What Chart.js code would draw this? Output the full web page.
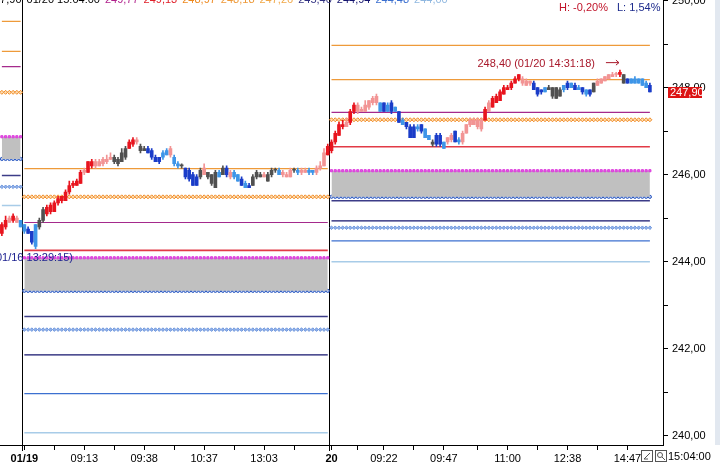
<!DOCTYPE html>
<html>
<head>
<meta charset="utf-8">
<script src="https://cdn.jsdelivr.net/npm/chart.js@4.4.1/dist/chart.umd.min.js"></script>
<style>
  html, body { margin: 0; padding: 0; background: #fff; overflow: hidden; }
  #wrap { position: absolute; left: 0; top: -7px; width: 720px; height: 475px; }
  #scroll { position: absolute; left: 715px; top: 0; width: 5px; height: 445px; background: #e2e8f0; }
</style>
</head>
<body>
<div id="wrap"><canvas id="c"></canvas></div>
<div id="scroll"></div>
<script>
// ── data ─────────────────────────────────────────
// one candle per slot: 01/16 tail (0-5), 01/19 (6-87), 01/20 (88-173)
const opens = [
  244.65,244.80,244.90,244.95,244.90,244.95, 244.85,244.75,244.70,244.85,
  244.80,244.95,245.10,245.15,245.15,245.35,245.40,245.40,245.60,245.75,
  245.75,245.80,246.05,246.05,246.20,246.20,246.20,246.25,246.30,246.35,
  246.40,246.25,246.30,246.40,246.60,246.70,246.75,246.65,246.60,246.60,
  246.55,246.40,246.40,246.50,246.55,246.45,246.40,246.25,246.20,246.15,
  246.10,246.00,245.95,245.95,246.00,246.05,246.00,245.70,246.05,246.00,
  246.15,245.95,246.05,246.00,245.90,245.80,245.75,245.75,245.95,246.00,
  245.95,245.85,246.00,246.10,246.10,246.00,245.95,245.95,246.10,246.10,
  246.05,246.05,246.10,246.10,246.05,246.15,246.20,246.45,
  246.55,246.75,246.90,247.10,247.10,247.20,247.45,247.45,247.45,247.45,
  247.55,247.65,247.65,247.65,247.65,247.60,247.65,247.55,247.45,247.25,
  247.20,247.10,247.10,247.10,247.15,247.05,246.90,246.75,246.90,246.90,
  246.75,246.75,246.80,247.00,246.80,246.75,246.95,247.15,247.15,247.10,
  247.05,247.25,247.45,247.55,247.65,247.70,247.85,247.95,248.00,248.10,
  248.20,248.10,248.05,248.10,248.10,248.00,247.95,248.00,248.00,248.00,
  247.75,247.95,248.05,248.10,248.10,248.05,248.00,248.00,247.95,247.95,
  247.90,248.05,248.10,248.15,248.20,248.25,248.30,248.30,248.30,248.20,
  248.20,248.20,248.20,248.20,248.10,248.05
];
const highs = [
  244.90,245.05,245.05,245.10,245.05,244.95, 244.85,244.80,244.70,244.85,
  245.00,245.25,245.30,245.35,245.40,245.50,245.50,245.65,245.85,245.85,
  245.90,246.10,246.15,246.30,246.35,246.35,246.35,246.40,246.45,246.50,
  246.45,246.40,246.60,246.65,246.80,246.85,246.85,246.70,246.65,246.65,
  246.60,246.45,246.40,246.55,246.60,246.65,246.45,246.30,246.25,246.15,
  246.15,246.05,246.00,246.15,246.25,246.05,246.00,246.10,246.10,246.20,
  246.20,246.10,246.10,246.00,245.95,245.85,245.80,246.00,246.10,246.05,
  246.05,246.05,246.15,246.15,246.15,246.10,246.05,246.15,246.15,246.15,
  246.15,246.15,246.15,246.10,246.20,246.30,246.60,246.70,
  246.80,247.00,247.20,247.25,247.30,247.50,247.65,247.65,247.55,247.70,
  247.70,247.80,247.85,247.65,247.65,247.65,247.70,247.55,247.45,247.30,
  247.20,247.15,247.15,247.15,247.15,247.05,246.90,246.80,246.95,246.95,
  246.75,246.85,246.95,247.00,246.85,247.00,247.15,247.30,247.30,247.30,
  247.30,247.55,247.70,247.80,247.85,247.95,248.05,248.05,248.15,248.25,
  248.30,248.25,248.20,248.15,248.15,248.00,247.95,248.00,248.05,248.00,
  248.00,248.00,248.05,248.15,248.10,248.10,248.05,248.00,247.95,247.95,
  248.10,248.20,248.20,248.25,248.30,248.35,248.35,248.40,248.30,248.20,
  248.20,248.25,248.20,248.20,248.15,248.10
];
const lows = [
  244.60,244.75,244.90,244.90,244.90,244.80, 244.65,244.65,244.40,244.30,
  244.75,244.90,245.05,245.10,245.15,245.30,245.35,245.40,245.55,245.70,
  245.75,245.80,246.00,246.05,246.15,246.15,246.20,246.20,246.25,246.35,
  246.25,246.20,246.30,246.35,246.60,246.65,246.70,246.50,246.55,246.50,
  246.35,246.30,246.25,246.35,246.45,246.40,246.20,246.15,246.15,245.90,
  245.85,245.75,245.75,245.90,246.00,245.90,245.75,245.70,245.95,246.00,
  245.95,245.90,245.90,245.85,245.75,245.70,245.70,245.75,245.90,245.95,
  245.95,245.85,245.95,246.05,246.00,245.95,245.95,245.95,246.05,246.00,
  246.00,246.05,246.00,246.00,246.00,246.10,246.20,246.45,
  246.50,246.70,246.90,247.05,247.10,247.15,247.40,247.40,247.45,247.45,
  247.50,247.60,247.60,247.45,247.45,247.45,247.40,247.45,247.20,247.15,
  247.05,246.85,246.85,247.00,246.95,246.85,246.80,246.65,246.65,246.65,
  246.60,246.70,246.75,246.75,246.70,246.70,246.95,247.10,247.15,247.05,
  247.00,247.25,247.45,247.55,247.65,247.70,247.85,247.95,247.95,248.10,
  248.15,248.05,248.05,248.05,247.95,247.80,247.85,247.90,247.95,247.75,
  247.75,247.80,247.90,247.95,248.00,247.95,247.95,247.85,247.80,247.80,
  247.90,248.05,248.10,248.15,248.20,248.25,248.25,248.25,248.10,248.10,
  248.10,248.10,248.10,248.05,248.00,247.90
];
const closes = [
  244.85,244.95,245.00,245.05,245.00,244.80, 244.70,244.65,244.45,244.35,
  244.95,245.20,245.25,245.30,245.35,245.45,245.50,245.60,245.75,245.80,
  245.85,246.05,246.10,246.30,246.30,246.30,246.30,246.35,246.35,246.40,
  246.30,246.35,246.50,246.60,246.75,246.80,246.80,246.55,246.55,246.50,
  246.40,246.30,246.30,246.40,246.45,246.60,246.25,246.20,246.20,245.95,
  245.90,245.75,245.75,246.10,246.15,245.95,245.80,246.05,245.95,246.15,
  246.00,246.05,245.95,245.85,245.75,245.70,245.70,245.95,246.05,245.95,
  246.00,246.00,246.10,246.10,246.00,246.05,246.00,246.10,246.10,246.05,
  246.10,246.10,246.05,246.05,246.15,246.20,246.50,246.65,
  246.75,246.95,247.15,247.15,247.20,247.45,247.60,247.60,247.50,247.60,
  247.70,247.75,247.80,247.45,247.45,247.45,247.45,247.45,247.20,247.15,
  247.10,246.85,246.85,247.05,247.00,246.85,246.80,246.70,246.70,246.70,
  246.60,246.85,246.90,246.75,246.75,246.95,247.15,247.25,247.25,247.25,
  247.25,247.50,247.65,247.75,247.80,247.90,248.00,248.00,248.10,248.20,
  248.30,248.20,248.15,248.15,247.95,247.85,247.90,247.90,247.95,247.80,
  248.00,247.80,247.95,248.00,248.00,247.95,247.95,247.90,247.85,247.85,
  248.10,248.15,248.20,248.25,248.30,248.30,248.30,248.35,248.10,248.10,
  248.10,248.10,248.10,248.05,248.00,247.90
];
// R red, P pink, B blue, L light blue, K dark
const kinds = (
  'RRPRPL LBBL KKRRRRRRRR RRPRRPPPPP KKKKRRPKKB BBBLLPLLKB BBBKPKKKLK ' +
  'BPLLBLBKKK PKKKLPPPKL PPLLPPPR RRRRPRRPPP PPPLBLBLBL BBBLBLLKBB ' +
  'LPPBLPPPPP PRPRRRRRRR RPPPBBBLKK KKLBLBLBLB KPPPPPPRKB LLLLLB'
).replace(/ /g, '').split('');

const slotCount = 177;
const sessionStart = [0, 6, 88];
const sessionEnd = [5, 87, 173];
// support / resistance levels per session, same order as LEVEL_STYLES
const levels0116 = [249.52, 248.83, 248.48, 247.89, null, 246.87, 246.36, 245.98, null, 245.72, null, 245.29];
const levels0119 = [null, 246.14, 244.90, 245.49, 244.26, 244.09, 243.33, 242.74, 241.86, 242.44, 240.97, 240.07];
const levels0120 = [248.97, 248.18, 247.43, 247.26, 246.64, 246.09, 245.49, 245.40, 244.94, 244.78, 244.48, 244.00];

const majorTickIdx = [6, 22, 38, 54, 70, 88, 102, 118, 135, 151, 167];
const majorTickText = ['01/19', '09:13', '09:38', '10:37', '13:03', '20', '09:22', '09:47', '11:00', '12:38', '14:47'];
const minorTickIdx = [14, 30, 46, 62, 78, 95, 110, 127, 143, 159];
const dayTickIdx = [6, 88];
const yTicks = [240, 241, 242, 243, 244, 245, 246, 247, 248, 249, 250];
const Y_MIN = 239.79, Y_MAX = 250.02;

// ── styles ───────────────────────────────────────
const FONT = '"Liberation Sans", Arial, sans-serif';
const KIND_COLOR = { R: '#e8141e', P: '#f29494', B: '#1a3cc8', L: '#3d95e8', K: '#505050' };
const LEVEL_STYLES = [
  { c: '#ee9a3a', w: 1.2 },
  { c: '#ee9a3a', w: 1.2 },
  { c: '#a52a8c', w: 1.2 },
  { dot: 'rectRot', c: '#f08a24', bg: '#fddcb0', r: 2 },
  { c: '#e23a46', w: 1.6 },
  { dot: 'rect', c: '#dc3cdc', bg: '#e656e6', r: 1.5, fill: true },
  { dot: 'circle', c: '#2a58c0', bg: '#b8c8ee', r: 1.6 },
  { c: '#3c3c88', w: 1.5 },
  { c: '#14146e', w: 1.2 },
  { dot: 'rectRot', c: '#6e96dc', bg: '#92b2ea', r: 1.8 },
  { c: '#3c70d0', w: 1.2 },
  { c: '#a8cce8', w: 1.6 },
];
const fmt = v => v.toFixed(2).replace('.', ',');

// ── datasets ─────────────────────────────────────
const slots = Array.from({ length: slotCount }, (_, i) => i);
const sessionLevels = [levels0116, levels0119, levels0120];
const candleColors = kinds.map(k => KIND_COLOR[k]);

// one line dataset per (session, level) so sessions never join up
const levelSets = [];
sessionLevels.forEach((lv, s) => {
  LEVEL_STYLES.forEach((st, k) => {
    if (lv[k] == null) return;
    const data = slots.map(i => (i >= sessionStart[s] && i <= sessionEnd[s] ? lv[k] : null));
    const ds = { type: 'line', data, order: 2, tension: 0, pointHoverRadius: 0 };
    if (st.dot) {
      Object.assign(ds, {
        showLine: false, borderColor: st.c, backgroundColor: '#c0c0c0',
        pointStyle: st.dot, pointRadius: st.r, pointBorderWidth: 1,
        pointBorderColor: st.c, pointBackgroundColor: st.bg,
        fill: st.fill ? '+1' : false,
      });
    } else {
      Object.assign(ds, { borderColor: st.c, borderWidth: st.w, pointRadius: 0, fill: false });
    }
    levelSets.push(ds);
  });
});

const overlay = {
  id: 'overlay',
  beforeDatasetsDraw(chart) {
    const { ctx, chartArea: a, scales: { x } } = chart;
    ctx.save();
    ctx.strokeStyle = '#000';
    ctx.lineWidth = 1;
    sessionStart.slice(1).forEach(i => {
      const px = Math.floor((x.getPixelForValue(i - 1) + x.getPixelForValue(i)) / 2) + 0.5;
      ctx.beginPath();
      ctx.moveTo(px, a.top);
      ctx.lineTo(px, a.bottom + 6);
      ctx.stroke();
    });
    ctx.restore();
  },
  afterDraw(chart) {
    const { ctx, chartArea: a, scales: { x, y } } = chart;
    const P = v => v + Math.round(a.top);   // page y -> canvas y
    ctx.save();
    ctx.font = `11px ${FONT}`;

    // legend strip, mostly off the top edge
    const legendItems = [
      ['47,90', '#000'], ['01/20 15:04:00', '#000'], ['249,77', '#b0208c'], ['249,13', '#e0202a'],
      ['248,97', '#ee8a20'], ['248,18', '#ee9a3a'], ['247,26', '#f0a848'], ['245,40', '#303080'],
      ['244,94', '#14146e'], ['244,48', '#3c70d0'], ['244,00', '#90b8e0'],
    ];
    ctx.textBaseline = 'alphabetic';
    let lx = -6;
    legendItems.forEach(([t, c]) => {
      ctx.fillStyle = c;
      ctx.fillText(t, lx, P(3));
      lx += ctx.measureText(t).width + 5;
    });

    ctx.textBaseline = 'middle';
    ctx.fillStyle = '#c0142a';
    ctx.fillText('H: -0,20%', 559, P(8));
    ctx.fillStyle = '#1c2a8c';
    ctx.fillText('L: 1,54%', 617, P(8));

    // session high marker
    const hi = highs.indexOf(Math.max(...highs));
    const hx = x.getPixelForValue(hi), hy = y.getPixelForValue(highs[hi]);
    ctx.fillStyle = '#a8182a';
    ctx.textAlign = 'right';
    ctx.fillText(`${fmt(highs[hi])} (01/20 14:31:18)`, hx - 25, hy - 6);
    ctx.strokeStyle = '#a8182a';
    ctx.lineWidth = 1;
    ctx.beginPath();
    ctx.moveTo(hx - 14, hy - 7.5); ctx.lineTo(hx - 1, hy - 7.5);
    ctx.moveTo(hx - 4, hy - 10); ctx.lineTo(hx - 1, hy - 7.5); ctx.lineTo(hx - 4, hy - 5);
    ctx.stroke();

    ctx.fillStyle = '#1e2290';
    ctx.fillText('(01/16 13:29:15)', 73, P(258));

    // last price box
    const last = closes[closes.length - 1];
    const py = Math.round(y.getPixelForValue(last));
    ctx.fillStyle = '#dc1414';
    ctx.fillRect(y.left + 5, py - 5, 34, 11);
    ctx.fillStyle = '#fff';
    ctx.textAlign = 'left';
    ctx.fillText(fmt(last), y.left + 7, py + 0.5);

    // toolbar icons + clock
    ctx.strokeStyle = '#555';
    ctx.strokeRect(641.5, P(450) + 0.5, 11, 11);
    ctx.strokeRect(655.5, P(450) + 0.5, 11, 11);
    ctx.beginPath();
    ctx.moveTo(644, P(459)); ctx.lineTo(650, P(453));
    ctx.moveTo(644, P(459)); ctx.lineTo(648, P(459));
    ctx.stroke();
    ctx.beginPath();
    ctx.arc(660, P(455), 2.5, 0, Math.PI * 2);
    ctx.moveTo(662, P(457)); ctx.lineTo(665, P(460));
    ctx.stroke();
    ctx.fillStyle = '#000';
    ctx.fillText('15:04:00', 668, P(457));
    ctx.restore();
  }
};

const chart = new Chart(document.getElementById('c'), {
  type: 'bar',
  data: {
    labels: slots,
    datasets: [
      {
        type: 'bar', data: opens.map((o, i) => [o, closes[i]]),
        backgroundColor: candleColors, barThickness: 3, minBarLength: 1,
        grouped: false, borderWidth: 0, order: 0,
      },
      {
        type: 'bar', data: highs.map((h, i) => [lows[i], h]),
        backgroundColor: candleColors, barThickness: 1,
        grouped: false, borderWidth: 0, order: 1,
      },
      ...levelSets,
    ]
  },
  options: {
    responsive: true,
    maintainAspectRatio: false,
    animation: false,
    events: [],
    layout: { padding: 0, autoPadding: false },
    plugins: { legend: { display: false }, tooltip: { enabled: false } },
    scales: {
      x: {
        type: 'category', offset: true,
        afterBuildTicks: s => {
          s.ticks = majorTickIdx.concat(minorTickIdx).sort((a, b) => a - b).map(v => ({ value: v }));
        },
        afterFit: s => { s.height = 23; s.paddingLeft = 0; s.paddingRight = 0; },
        ticks: {
          autoSkip: false, maxRotation: 0, padding: 2, color: '#000',
          font: c => ({ family: FONT, size: 11, weight: c.tick && dayTickIdx.includes(c.tick.value) ? 'bold' : 'normal' }),
          callback: v => {
            const k = majorTickIdx.indexOf(v);
            return k >= 0 ? majorTickText[k] : '';
          }
        },
        grid: { drawOnChartArea: false, drawTicks: true, tickLength: 5, color: '#000', offset: false },
        border: { display: true, color: '#000' }
      },
      y: {
        position: 'right', min: Y_MIN, max: Y_MAX,
        afterBuildTicks: s => { s.ticks = yTicks.map(v => ({ value: v })); },
        afterFit: s => { s.width = 57; },
        ticks: {
          color: '#000', padding: 4, font: { family: FONT, size: 11 },
          callback: v => (v % 2 === 0 ? fmt(v) : '')
        },
        grid: { drawOnChartArea: false, drawTicks: true, tickLength: 5, color: '#000' },
        border: { display: true, color: '#000' }
      }
    }
  },
  plugins: [overlay]
});

// pull the canvas up so the plot top sits on the page edge, like the terminal window
const topPad = Math.round(chart.chartArea.top);
const wrap = document.getElementById('wrap');
wrap.style.top = -topPad + 'px';
wrap.style.height = (468 + topPad) + 'px';
chart.resize();
</script>
</body>
</html>
